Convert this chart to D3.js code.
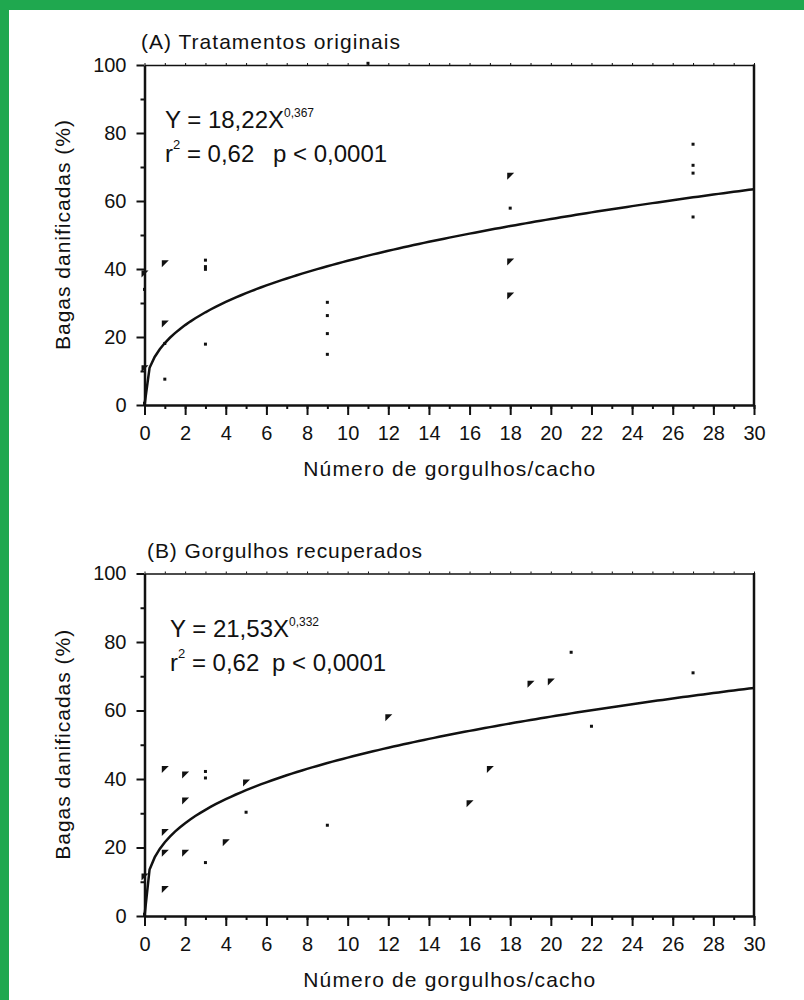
<!DOCTYPE html>
<meta charset="utf-8">
<style>
body { margin: 0; background: #fff; }
svg text { font-family: Arial, "Liberation Sans", Helvetica, sans-serif; fill: #111; }
.axis path, .axis line { stroke: #111; }
.axis text { font-size: 20px; font-family: Arial, "Liberation Sans", Helvetica, sans-serif; }
</style>
<svg id="chart" width="804" height="1000"></svg>
<script src="https://cdn.jsdelivr.net/npm/d3@7"></script>
<script>

// panel A - tratamentos originais
var aTitle = "(A) Tratamentos originais";
var aCoef = 18.22, aExp = 0.367;
var aEqMain = "Y = 18,22X", aEqSup = "0,367";
var aTriangles = [[0, 38.7], [0, 10.8], [1, 41.7], [1, 24], [18, 67.4], [18, 42.2], [18, 32.2]];
var aDots = [[0, 0.5], [0, 34], [1, 18.1], [1, 7.6], [3, 42.6], [3, 40.7], [3, 39.9], [3, 17.9],
  [9, 30.2], [9, 26.3], [9, 21], [9, 14.9], [11, 100.5], [18, 57.9],
  [27, 76.7], [27, 70.5], [27, 68.2], [27, 55.3]];

// panel B - gorgulhos recuperados
var bTitle = "(B) Gorgulhos recuperados";
var bCoef = 21.53, bExp = 0.332;
var bEqMain = "Y = 21,53X", bEqSup = "0,332";
var bTriangles = [[0, 11.5], [1, 42.9], [1, 24.5], [1, 18.5], [1, 7.9], [2, 41.3], [2, 33.7], [2, 18.5],
  [4, 21.5], [5, 39], [12, 58], [16, 32.9], [17, 42.9], [19, 67.8], [20, 68.5]];
var bDots = [[0, 0.5], [3, 42.2], [3, 40.3], [3, 15.6], [5, 30.3], [9, 26.5], [21, 77], [22, 55.4], [27, 71]];

var statsText = "= 0,62", pText = "p < 0,0001";
var xLabel = "Número de gorgulhos/cacho";
var yLabel = "Bagas danificadas (%)";
var xMajor = d3.range(0, 31, 2);
var xMinor = d3.range(0, 31, 1);
var yMajor = [0, 20, 40, 60, 80, 100];
var yMinor = [10, 30, 50, 70, 90];

var svg = d3.select("#chart");

svg.append("rect").attr("x", 0).attr("y", 0).attr("width", 804).attr("height", 10).attr("fill", "#1fa84f");
svg.append("rect").attr("x", 0).attr("y", 0).attr("width", 9).attr("height", 1000).attr("fill", "#1fa84f");

var left = 144.5, right = 754;

function panel(top, bottom, title, titleX, titleW, coef, ex, eqMain, eqSup, tris, dots, pX, eqX) {
  var x = d3.scaleLinear().domain([0, 30]).range([left, right]);
  var y = d3.scaleLinear().domain([0, 100]).range([bottom, top]);
  var g = svg.append("g");

  // frame top + right
  g.append("g").attr("class", "axis").attr("transform", "translate(0," + top + ")")
      .call(d3.axisTop(x).tickValues(xMinor).tickSize(2).tickSizeOuter(0).tickFormat(""))
      .call(function(s) { s.select(".domain").attr("stroke-width", 1.5); s.selectAll("line").attr("stroke-width", 1); });
  g.append("line").attr("x1", right).attr("x2", right).attr("y1", top - 0.5).attr("y2", bottom)
      .attr("stroke", "#111").attr("stroke-width", 2.5);

  // x axis
  g.append("g").attr("class", "axis").attr("transform", "translate(0," + bottom + ")")
      .call(d3.axisBottom(x).tickValues(xMinor).tickSize(4).tickSizeOuter(0).tickFormat(""))
      .call(function(s) { s.selectAll("line").attr("stroke-width", 2); s.select(".domain").remove(); });
  g.append("g").attr("class", "axis").attr("transform", "translate(0," + bottom + ")")
      .call(d3.axisBottom(x).tickValues(xMajor).tickSize(10).tickPadding(11).tickSizeOuter(0))
      .call(function(s) { s.select(".domain").attr("stroke-width", 2.5); s.selectAll("line").attr("stroke-width", 2); });

  // y axis
  g.append("g").attr("class", "axis").attr("transform", "translate(" + left + ",0)")
      .call(d3.axisLeft(y).tickValues(yMinor).tickSize(4).tickSizeOuter(0).tickFormat(""))
      .call(function(s) { s.selectAll("line").attr("stroke-width", 2); s.select(".domain").remove(); });
  g.append("g").attr("class", "axis").attr("transform", "translate(" + left + ",0)")
      .call(d3.axisLeft(y).tickValues(yMajor).tickSize(8).tickPadding(10).tickSizeOuter(0))
      .call(function(s) { s.select(".domain").attr("stroke-width", 2.5); s.selectAll("line").attr("stroke-width", 2); });

  // fitted curve
  var pts = [[0, 0]].concat(d3.range(0.25, 30.001, 0.25).map(function(v) { return [v, coef * Math.pow(v, ex)]; }));
  g.append("path").datum(pts)
      .attr("fill", "none").attr("stroke", "#111").attr("stroke-width", 2.5)
      .attr("d", d3.line().x(function(d) { return x(d[0]); }).y(function(d) { return y(d[1]); }));

  // points
  g.selectAll(".tri").data(tris).enter().append("path")
      .attr("class", "tri")
      .attr("transform", function(d) { return "translate(" + x(d[0]) + "," + y(d[1]) + ")"; })
      .attr("d", "M-3,-3L4,-3L-3,4Z").attr("fill", "#111");
  g.selectAll(".dot").data(dots).enter().append("rect")
      .attr("class", "dot")
      .attr("x", function(d) { return x(d[0]) - 1.5; })
      .attr("y", function(d) { return y(d[1]) - 1.5; })
      .attr("width", 3).attr("height", 3).attr("fill", "#111");

  // texts
  g.append("text").attr("x", titleX).attr("y", top - 16)
      .attr("font-size", 21).attr("textLength", titleW).attr("lengthAdjust", "spacing")
      .text(title);

  var eq = g.append("text").attr("x", eqX).attr("y", top + 63).attr("font-size", 24);
  eq.append("tspan").text(eqMain);
  eq.append("tspan").attr("dy", -11).attr("font-size", 12).text(eqSup);

  var st = g.append("text").attr("x", eqX).attr("y", top + 97).attr("font-size", 24);
  st.append("tspan").text("r");
  st.append("tspan").attr("dy", -13).attr("font-size", 13).text("2");
  st.append("tspan").attr("dy", 13).text(" " + statsText);
  st.append("tspan").attr("x", pX).text(pText);

  g.append("text").attr("x", (left + right) / 2).attr("y", bottom + 71)
      .attr("text-anchor", "middle").attr("font-size", 21)
      .attr("textLength", 292).attr("lengthAdjust", "spacing")
      .text(xLabel);

  g.append("text")
      .attr("transform", "translate(70," + (top + bottom) / 2 + ") rotate(-90)")
      .attr("text-anchor", "middle").attr("font-size", 21)
      .attr("textLength", 230).attr("lengthAdjust", "spacing")
      .text(yLabel);
}

panel(65, 405, aTitle, 141, 259, aCoef, aExp, aEqMain, aEqSup, aTriangles, aDots, 273, 165);
panel(573.5, 916, bTitle, 147, 275, bCoef, bExp, bEqMain, bEqSup, bTriangles, bDots, 272, 170);

</script>
